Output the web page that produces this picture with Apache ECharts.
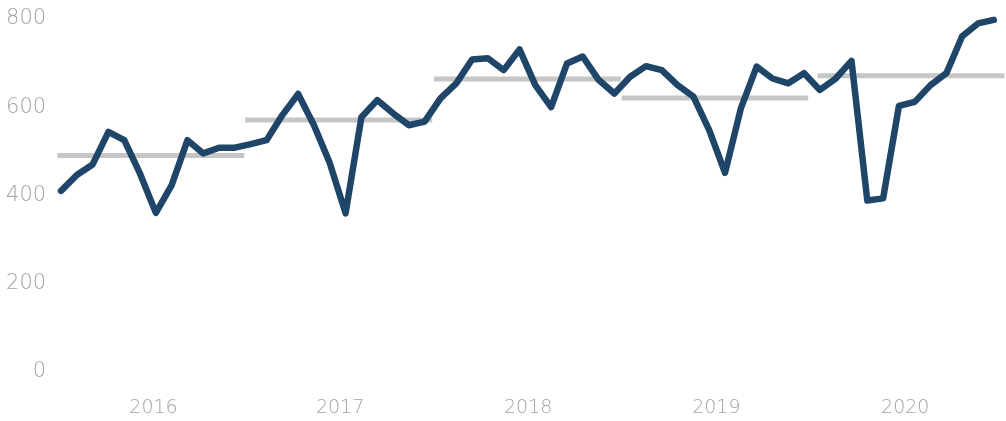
<!DOCTYPE html>
<html>
<head>
<meta charset="utf-8">
<title>Monthly values with yearly levels</title>
<script src="https://cdn.jsdelivr.net/npm/echarts@6/dist/echarts.min.js"></script>
<style>
  html, body { margin: 0; padding: 0; background: #ffffff; }
  #chart { width: 1006px; height: 421px; }
</style>
</head>
<body>
<div id="chart"></div>
<script>
// Monthly values, Jan 2016 .. Dec 2020 (index 0..59)
const monthlyValues = [
  402, 438, 462, 536, 517, 441, 352, 415, 517, 487, 500, 500,
  508, 517, 574, 622, 551, 465, 351, 569, 608, 578, 551, 559,
  612, 646, 700, 703, 676, 723, 642, 592, 691, 707, 654, 623,
  661, 685, 676, 642, 616, 540, 443, 589, 684, 657, 646, 669,
  631, 657, 697, 380, 385, 595, 604, 642, 669, 753, 782, 790
];

// Yearly reference levels and the month span each level covers
const yearLabels = ['2016', '2017', '2018', '2019', '2020'];
const yearLevels = [482, 563, 656, 613, 663];
const yearStart  = [-0.23, 11.64, 23.59, 35.46, 47.85];
const yearEnd    = [11.59, 23.48, 35.40, 47.26, 59.68];
const yearTicks  = [5.85, 17.65, 29.55, 41.45, 53.4];

// Y axis ticks
const yTicks = [0, 200, 400, 600, 800];

const chart = echarts.init(document.getElementById('chart'), null, { renderer: 'canvas' });

const labelGray = '#a2a2a2';
const labelFont = 'DejaVu Sans';

const levelSeries = yearLabels.map((y, i) => ({
  name: 'level ' + y,
  type: 'line',
  data: [[yearStart[i], yearLevels[i]], [yearEnd[i], yearLevels[i]]],
  symbol: 'none',
  silent: true,
  z: 1,
  lineStyle: { color: '#c6c6c6', width: 5, cap: 'butt' }
}));

chart.setOption({
  animation: false,
  grid: { left: 53.1, right: 0.5, top: 15.5, bottom: 53, containLabel: false },
  xAxis: {
    type: 'value',
    min: -0.5,
    max: 59.74,
    axisLine: { show: false },
    axisTick: { show: false },
    splitLine: { show: false },
    axisLabel: {
      customValues: yearTicks,
      formatter: v => {
        const k = yearTicks.findIndex(t => Math.abs(t - v) < 1e-6);
        return k >= 0 ? yearLabels[k] : '';
      },
      color: labelGray,
      fontFamily: labelFont,
      fontWeight: 200,
      fontSize: 19,
      margin: 31
    }
  },
  yAxis: {
    type: 'value',
    min: yTicks[0],
    max: yTicks[yTicks.length - 1],
    interval: 200,
    axisLine: { show: false },
    axisTick: { show: false },
    splitLine: { show: false },
    axisLabel: {
      color: labelGray,
      fontFamily: labelFont,
      fontWeight: 200,
      fontSize: 21,
      margin: 7,
      verticalAlign: 'top',
      lineHeight: 7
    }
  },
  series: [
    ...levelSeries,
    {
      name: 'monthly',
      type: 'line',
      data: monthlyValues.map((v, i) => [i, v]),
      symbol: 'none',
      z: 3,
      lineStyle: { color: '#1f4568', width: 6.5, cap: 'round', join: 'round' }
    }
  ]
});
</script>
</body>
</html>
